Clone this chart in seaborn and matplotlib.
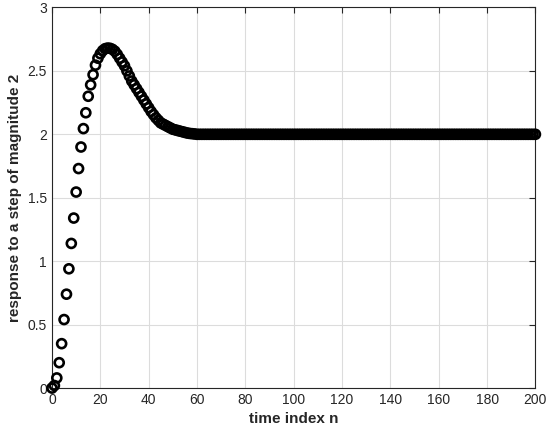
import numpy as np
import pandas as pd
import matplotlib
matplotlib.use("Agg")
import matplotlib.pyplot as plt
import seaborn as sns

# response values, n = 0..60
rise = [0.0, 0.02, 0.08, 0.2, 0.35, 0.54, 0.74, 0.94, 1.14, 1.34,
        1.545, 1.73, 1.9, 2.045, 2.17, 2.3, 2.39, 2.47, 2.545, 2.6,
        2.635, 2.66, 2.675, 2.68, 2.678, 2.67, 2.655, 2.63, 2.6, 2.57,
        2.54, 2.5, 2.46, 2.42, 2.39, 2.36, 2.33, 2.3, 2.27, 2.24,
        2.21, 2.18, 2.155, 2.13, 2.11, 2.09, 2.08, 2.07, 2.06, 2.05,
        2.04, 2.035, 2.03, 2.025, 2.02, 2.015, 2.01, 2.007, 2.005, 2.003,
        2.0]
# flat at 2 from n = 61 to 200
settled = [2.0] * 140
response = rise + settled
n = list(range(len(response)))

xticks = [0, 20, 40, 60, 80, 100, 120, 140, 160, 180, 200]
yticks = [0, 0.5, 1, 1.5, 2, 2.5, 3]

df = pd.DataFrame({"n": n, "y": response})

sns.set_style("white")
plt.rcParams["font.family"] = ["Liberation Sans", "DejaVu Sans"]

fig = plt.figure(figsize=(5.5, 4.38), dpi=100)
ax = fig.add_axes([0.0945, 0.114, 0.879, 0.869])

sns.scatterplot(data=df, x="n", y="y", ax=ax, marker="o", s=42,
                facecolor="none", edgecolor="black", linewidth=1.9,
                zorder=3, clip_on=False)

ax.set_xlim(0, 200)
ax.set_ylim(0, 3)
ax.set_xticks(xticks)
ax.set_yticks(yticks)
ax.set_yticklabels(["0", "0.5", "1", "1.5", "2", "2.5", "3"])
ax.grid(True, color="#dcdcdc", linewidth=0.8)
ax.set_axisbelow(True)
ax.tick_params(direction="in", length=4, width=0.8, labelsize=10,
               top=True, right=True, colors="#262626")
for s in ax.spines.values():
    s.set_color("#262626")
    s.set_linewidth(0.8)

ax.set_xlabel("time index n", fontsize=11, fontweight="bold")
ax.set_ylabel("response to a step of magnitude 2", fontsize=11, fontweight="bold")

plt.savefig("out.png", dpi=100)
